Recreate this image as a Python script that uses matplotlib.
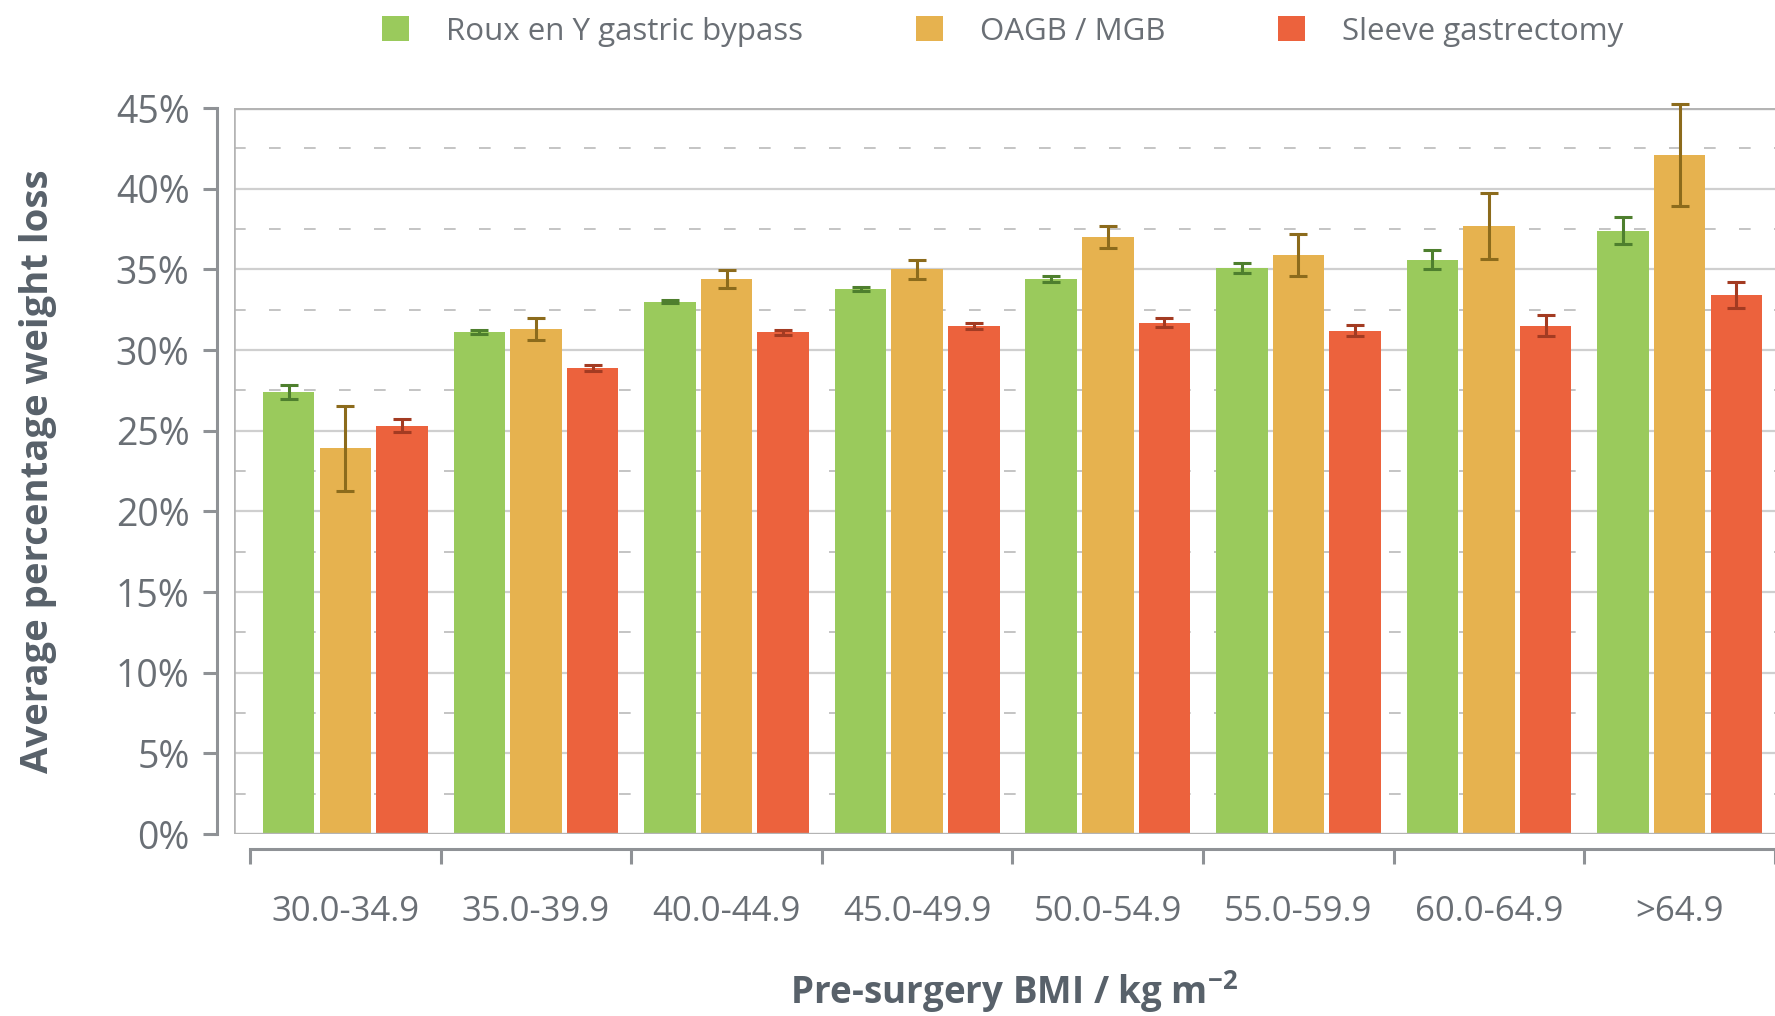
import matplotlib.pyplot as plt
from matplotlib.patches import Patch
import numpy as np

plt.rcParams['font.family'] = ['Open Sans', 'DejaVu Sans']
plt.rcParams['mathtext.fontset'] = 'custom'
plt.rcParams['mathtext.rm'] = 'Open Sans'
plt.rcParams['mathtext.bf'] = 'Open Sans:bold'

# BMI bands and weight loss (%)
bmi_bands = ['30.0-34.9', '35.0-39.9', '40.0-44.9', '45.0-49.9',
             '50.0-54.9', '55.0-59.9', '60.0-64.9', '>64.9']
procedures = ['Roux en Y gastric bypass', 'OAGB / MGB', 'Sleeve gastrectomy']

rygb = [27.4, 31.1, 33.0, 33.8, 34.4, 35.1, 35.6, 37.4]
rygb_err = [0.45, 0.12, 0.1, 0.12, 0.2, 0.3, 0.6, 0.85]
oagb = [23.9, 31.3, 34.4, 35.0, 37.0, 35.9, 37.7, 42.1]
oagb_err = [2.65, 0.7, 0.55, 0.6, 0.7, 1.3, 2.05, 3.15]
sleeve = [25.3, 28.9, 31.1, 31.5, 31.7, 31.2, 31.5, 33.4]
sleeve_err = [0.4, 0.2, 0.15, 0.2, 0.3, 0.35, 0.65, 0.8]

bar_colors = ['#9aca5c', '#e6b24f', '#ec623d']
err_colors = ['#4e7f2e', '#8c6b1c', '#a33b22']
text_grey = '#6a6f75'
label_grey = '#58616a'
line_grey = '#b4b4b4'

fig = plt.figure(figsize=(17.75, 10.16), dpi=100)
ax = fig.add_axes([0.1318, 0.1791, 0.8682, 0.7146])

x = np.arange(len(bmi_bands))
width = 0.27
offset = 0.297
series = [(rygb, rygb_err), (oagb, oagb_err), (sleeve, sleeve_err)]
for i, (vals, errs) in enumerate(series):
    ax.bar(x + (i - 1) * offset, vals, width, color=bar_colors[i], zorder=3)
    eb = ax.errorbar(x + (i - 1) * offset, vals, yerr=errs, fmt='none',
                     ecolor=err_colors[i], elinewidth=2.2, capsize=6.5,
                     capthick=2.2, zorder=4)
    for artist in eb.lines[1] + eb.lines[2]:
        artist.set_clip_on(False)

xmin, xmax = -0.584, 7.5
ax.set_xlim(xmin, xmax)
ax.set_ylim(0, 45)

# gridlines: solid every 5 %, dashed in between
for v in np.arange(5, 45, 5):
    ax.axhline(v, color='#cfcfcf', lw=1.6, zorder=1)
for v in np.arange(2.5, 45, 5):
    ax.axhline(v, color='#c4c4c4', lw=1.4, ls=(0, (6, 12)), zorder=1)

# plot frame
ax.axhline(45, color=line_grey, lw=2.4, zorder=2)
ax.axhline(0, color=line_grey, lw=2.4, zorder=5)
ax.axvline(xmin, color=line_grey, lw=2.6, zorder=2)

for s in ['top', 'right']:
    ax.spines[s].set_visible(False)
ax.spines['left'].set_position(('outward', 12))
ax.spines['bottom'].set_position(('outward', 11))
ax.spines['left'].set_bounds(0, 45)
ax.spines['bottom'].set_bounds(-0.5, 7.5)
for s in ['left', 'bottom']:
    ax.spines[s].set_color('#8f9296')
    ax.spines[s].set_linewidth(2.2)

ax.set_yticks(np.arange(0, 46, 5))
ax.set_yticklabels([f'{v}%' for v in range(0, 46, 5)])
ax.set_xticks(np.arange(-0.5, 8, 1))
ax.set_xticklabels([])
ax.set_xticks(x, minor=True)
ax.set_xticklabels(bmi_bands, minor=True)
ax.tick_params(axis='y', length=10, width=2.2, color='#8f9296',
               labelsize=27, labelcolor=text_grey, pad=10)
ax.tick_params(axis='x', which='major', length=11, width=2.2,
               color='#8f9296', direction='out')
ax.tick_params(axis='x', which='minor', length=0, labelsize=25,
               labelcolor=text_grey, pad=33)

ax.set_ylabel('Average percentage weight loss', fontsize=27.5,
              fontweight='bold', color=label_grey)
ax.yaxis.set_label_coords(-0.115, 0.5)
fig.text(0.571, 0.012, r'Pre-surgery BMI / kg m$^{\mathbf{-2}}$',
         fontsize=26.5, fontweight='bold', color=label_grey,
         ha='center', va='baseline')

handles = [Patch(facecolor=c, edgecolor='none') for c in bar_colors]
leg = fig.legend(handles, procedures, loc='center',
                 bbox_to_anchor=(0.565, 0.969), ncol=3, frameon=False,
                 fontsize=22.5, handlelength=0.85, handleheight=0.85,
                 handletextpad=1.2, columnspacing=3.6)
for t in leg.get_texts():
    t.set_color(text_grey)

fig.savefig('out.png', dpi=100)
